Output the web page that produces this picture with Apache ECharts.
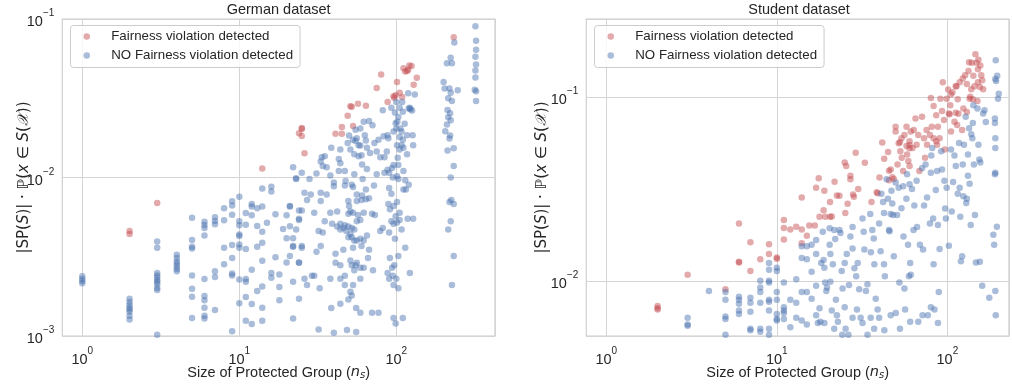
<!DOCTYPE html>
<html>
<head>
<meta charset="utf-8">
<script src="https://cdn.jsdelivr.net/npm/echarts@6/dist/echarts.min.js"></script>
<style>
  html, body { margin: 0; padding: 0; background: #ffffff; }
  #chart { width: 1012px; height: 385px; }
</style>
</head>
<body>
<div id="chart"></div>
<script>
// Series labels
const NAME_VIOL = 'Fairness violation detected';
const NAME_OK = 'NO Fairness violation detected';
const panelTitles = ['German dataset', 'Student dataset'];

// German dataset: [group size n_s, |SP(S)| * P(x in S)]
const germanViolation = [
  [2,0.0046],[2,0.0044],[3,0.0069],[14,0.0114],[26,0.0142],[24,0.019],[25,0.0205],[25,0.0202],[25,0.0183],
  [41,0.0189],[45,0.0189],[45,0.0208],[49,0.0245],[53,0.0211],[51,0.0282],[52,0.028],[57,0.0292],[64,0.0284],
  [75,0.0367],[80,0.0446],[88,0.0299],[96,0.0326],[97,0.0318],[99,0.033],[101,0.04],[105,0.0342],[109,0.0322],
  [111,0.0489],[114,0.0466],[117,0.047],[119,0.0478],[121,0.0508],[125,0.0506],[135,0.0426],[129,0.0385],[232,0.0766]
];
const germanNoViolation = [
  [1,0.00238],[1,0.00229],[1,0.00222],[1,0.00215],
  [2,0.00172],[2,0.00164],[2,0.00157],[2,0.00151],[2,0.00147],[2,0.00142],[2,0.00134],[2,0.00127],
  [3,0.00394],[3,0.00361],[3,0.0025],[3,0.00241],[3,0.00233],[3,0.00225],[3,0.00219],[3,0.00212],[3,0.00201],[3,0.00195],[3,0.00102],
  [4,0.00325],[4,0.0031],[4,0.00295],[4,0.00286],[4,0.00275],[4,0.00265],[4,0.00256],
  [5,0.00557],[5,0.00403],[5,0.00366],[5,0.00357],[5,0.00241],[5,0.00199],[5,0.00177],[5,0.0013],
  [6,0.00526],[6,0.00501],[6,0.00481],[6,0.00431],[6,0.00229],[6,0.00179],[6,0.00168],[6,0.00151],[6,0.00134],[6,0.00129],
  [7,0.00562],[7,0.00531],[7,0.00507],[7,0.00256],[7,0.00236],[7,0.00146],
  [8,0.0064],[8,0.00537],[8,0.00361],[8,0.00284],
  [9,0.00708],[9,0.00665],[9,0.00582],[9,0.00375],[9,0.0031],[9,0.00248],[9,0.00241],[9,0.00107],
  [10,0.00757],[10,0.00529],[10,0.00499],[10,0.00437],[10,0.00427],[10,0.00378],[10,0.00361],[10,0.00227],[10,0.00161],
  [11,0.00596],[11,0.00504],[11,0.00354],[11,0.00229],[11,0.0022],[11,0.00176],[11,0.00125],
  [12,0.00681],[12,0.00656],[12,0.00577],[12,0.00262],[12,0.00159],[12,0.00119],
  [13,0.0064],[13,0.00494],[13,0.00366],[13,0.00192],
  [14,0.00852],[14,0.00656],[14,0.00454],[14,0.00388],[14,0.00298],[14,0.00205],[14,0.00151],[14,0.00125],
  [15,0.00519],[16,0.00874],[16,0.00817],[16,0.0025],[16,0.00233],[17,0.00586],[17,0.00314],
  [18,0.00244],[18,0.00204],[18,0.00168],[19,0.00474],[20,0.00577],[20,0.00413],[20,0.00291],
  [21,0.00656],[21,0.00493],[22,0.00413],[22,0.00366],[22,0.0116],[23,0.0098],[22,0.00129],
  [24,0.0055],[24,0.00291],[24,0.00172],[24,0.0062],
  // n_s 20-110, upper band
  [62,0.0225],[67,0.0227],[70.5,0.0214],[59,0.0204],[55,0.02],[50,0.0184],[53,0.0173],[56,0.0177],[59,0.0159],
  [64,0.0171],[65,0.0154],[68,0.0143],[72.5,0.0165],[77,0.0173],[82,0.0266],[88,0.0185],[89,0.0177],[84,0.0134],
  [79,0.0134],[96,0.012],[93,0.0275],[100,0.03],[105,0.0275],[103,0.0241],[101.5,0.0225],[106,0.0204],[105,0.018],
  [108,0.016],[49,0.0165],[51,0.015],[54,0.014],[57.5,0.0136],[60.5,0.0121],[65,0.0113],[44,0.015],[43,0.0131],
  [38.5,0.0154],[35,0.0136],[34,0.0118],[36,0.0116],[38,0.0103],[44,0.0123],[47,0.011],[31,0.0106],[23,0.0099],
  [54,0.0105],[61,0.0098],[75,0.0105],[84,0.0107],[90,0.0107],[101,0.0102],[72,0.0089],[93,0.0079],[64,0.0084],
  [60.5,0.0077],[56,0.0078],[52,0.009],[47,0.0089],[40,0.0088],[36,0.0078],[33,0.008],[28.5,0.0078],[26,0.008],
  [28,0.0098],[25,0.0107],[33,0.0126],[33.5,0.0134],[43,0.011],[40,0.0093],[47.5,0.0095],[53,0.0087],[55,0.017],
  [57.5,0.016],[60,0.0138],[63,0.0185],[75,0.0146],[83,0.0182],[87,0.0146],[88,0.0112],[90,0.0086],[94,0.0115],
  [95,0.01],[96,0.0195],[98,0.0257],[99,0.022],[100,0.0204],[101,0.016],[102,0.0133],[103,0.012],[103,0.0098],[105,0.015],
  // n_s 20-110, lower band
  [21,0.0066],[27,0.0072],[33,0.0071],[25,0.0062],[30,0.006],[38,0.006],[42,0.0061],[49.5,0.0071],[50,0.0066],
  [51,0.0061],[49.5,0.0059],[53,0.006],[56,0.0071],[60,0.0072],[64,0.0073],[67,0.0074],[62,0.006],[70,0.0059],
  [73,0.0058],[57,0.0058],[59,0.0054],[56,0.0053],[44,0.0051],[47,0.005],[49.5,0.0049],[52,0.0048],[54,0.0047],
  [35,0.0053],[39,0.0051],[42,0.0049],[32,0.0046],[34,0.0045],[23,0.0047],[24,0.0054],[44,0.0047],[46,0.0048],
  [48,0.0046],[51,0.0044],[49.5,0.0042],[52,0.0042],[54,0.004],[56,0.004],[59,0.0041],[62,0.004],[65,0.0043],
  [60,0.0037],[53,0.0036],[46,0.0035],[41,0.0033],[22,0.0037],[25,0.0037],[25,0.0036],[21,0.0032],[24,0.0029],
  [31,0.0034],[33,0.0037],[41,0.0029],[44,0.0028],[51,0.003],[52,0.0028],[55,0.0028],[56,0.0029],[59,0.0027],
  [62,0.0027],[66,0.0031],[71,0.0026],[67,0.0035],[54,0.0026],[59,0.0023],[47,0.0024],[44,0.0023],[38,0.0023],
  [29,0.0024],[30,0.0024],[26,0.0023],[27,0.0021],[22,0.0022],[32.5,0.002],[47,0.0021],[53,0.0021],[51,0.0019],
  [52,0.0018],[49.5,0.0017],[44,0.0016],[38.5,0.0015],[55.5,0.0015],[59,0.0014],[70,0.0014],[77,0.0014],
  [32,0.0011],[40,0.00105],[48.5,0.00109],[55.5,0.00106],[91,0.0031],[94,0.0027],[88,0.0025],[90,0.0023],
  [95,0.0024],[97,0.0028],[96,0.0021],[100,0.0023],[79,0.0046],[82,0.0048],[90,0.0045],[96,0.0051],[101,0.0052],
  [105,0.0054],[98,0.0041],[103,0.0032],[89,0.0068],[91,0.0063],[96,0.0066],[101,0.007],[99,0.0057],[93,0.0053],
  [105,0.006],[108,0.0047],[96,0.0013],[99,0.0012],[103,0.002],[110,0.0013],[114,0.0036],[122,0.0025],[128,0.0055],
  [118,0.0055],[111,0.0084],[120,0.009],
  // n_s 108-131
  [109,0.03],[108,0.0195],[110,0.0173],[110,0.026],[111,0.0154],[111,0.011],[113,0.0218],[114,0.0096],[115,0.0084],
  [117,0.0185],[117,0.014],[119,0.034],[120,0.0272],[122,0.0275],[123,0.027],[126,0.0265],[127,0.0185],[128,0.016],[131,0.0334],
  // n_s 200-320
  [234,0.071],[222,0.057],[226,0.0525],[210,0.0525],[200,0.04],[203,0.0364],[218,0.0364],[246,0.0355],[222,0.0343],
  [214,0.0316],[226,0.0304],[212,0.0267],[220,0.0254],[214,0.024],[222,0.023],[210,0.0216],[205,0.0196],[220,0.0184],
  [218,0.0176],[232,0.0153],[212,0.0148],[232,0.0118],[222,0.01],[218,0.007],[224,0.0072],[232,0.0068],[222,0.0053],
  [214,0.0047],[232,0.0032],[226,0.0021],
  [319,0.09],[322,0.073],[322,0.064],[319,0.0578],[322,0.0517],[319,0.0473],[319,0.0428],[316,0.0358],[322,0.035],[322,0.0304]
];

// Student dataset
const studentViolation = [
  [2,0.0073],[2,0.0071],[2,0.007],[3,0.0108],[5,0.009],[6,0.0205],[6,0.0127],[6,0.0126],[7,0.0162],[7,0.0113],
  [8,0.0131],[9,0.0158],[9,0.014],[10,0.0134],[10,0.0132],[11,0.0214],[11,0.0194],[11,0.0168],[12,0.019],[13,0.0197],
  [14,0.0284],[14,0.019],[14,0.016],[15,0.0176],[15.5,0.02],[17,0.0321],[16.7,0.02],[17.6,0.0361],[17.8,0.0223],
  [19,0.0309],[18.8,0.0242],[19.2,0.0223],[20.5,0.0223],[21,0.0224],[20.5,0.0268],[21.8,0.0346],[22.5,0.0291],
  [23.3,0.029],[25,0.0439],[25.5,0.0421],[25.2,0.0234],[26,0.0262],[27,0.0373],[27,0.0357],[28,0.0295],[28.3,0.0286],
  [29,0.0496],[30,0.0316],[32.8,0.0438],[35.9,0.0268],[38.5,0.0303],[39,0.0299],[40,0.0364],[41.5,0.0565],[42.6,0.0461],
  [44.9,0.0502],[45.5,0.0396],[45.5,0.0352],[46.5,0.0403],[47.5,0.0365],[48.5,0.0358],[49.7,0.0647],[49.7,0.0688],
  [51,0.0429],[51.8,0.056],[52.7,0.0567],[53.8,0.0596],[53,0.0506],[54,0.0466],[55,0.0395],[56,0.0621],[57.6,0.0688],
  [57.6,0.054],[58,0.0486],[59,0.0448],[60,0.0421],[60,0.0573],[60,0.0547],[60,0.0525],[61,0.0647],[62.5,0.0527],
  [63.5,0.066],[65,0.0763],[66,0.0549],[67.5,0.0621],[68.5,0.0395],[71,0.0779],[73,0.0596],[74,0.0466],[75.5,0.066],
  [76,0.0549],[79,0.0621],[80,0.0984],[81,0.0688],[83,0.0892],[83,0.0596],[86,0.0795],[86,0.0573],[87,0.0549],
  [88,0.0688],[90,0.0596],[91,0.0976],[93,0.0838],[94,0.1199],[95.5,0.0747],[96.5,0.0517],[99,0.0976],[101,0.1094],
  [102,0.0811],[103,0.0805],[104,0.0899],[105,0.0647],[105,0.103],[107,0.106],[110,0.0732],[112,0.082],[112,0.114],
  [113,0.114],[114,0.0703],[115,0.0969],[116,0.081],[118,0.12],[122,0.066],[123,0.1258],[124,0.0863],[127,0.1309],
  [130,0.1174],[130,0.0828],[133,0.138],[134,0.154],[135,0.0976],[136,0.1],[138,0.11],[139,0.153],[141,0.0969],
  [142,0.13],[144,0.114],[146,0.17],[148,0.153],[150,0.095],[151,0.141],[151,0.12],[152,0.159],[155,0.113],
  [156,0.148],[158,0.131],[160,0.123],[162,0.11]
];
const studentNoViolation = [
  [4,0.0088],[3,0.0063],[3,0.0058],[3,0.0057],[4,0.005],[5,0.0087],[5,0.0079],[5,0.0064],[5,0.0062],[5,0.0051],
  [6,0.0082],[6,0.0079],[6,0.0075],[6,0.0069],[6,0.0066],[7,0.0081],[7,0.0076],[7,0.0068],[7,0.0055],[7,0.0054],
  [8,0.01],[8,0.0092],[8,0.0087],[8,0.0076],[8,0.0055],[8,0.0053],
  [9,0.0125],[9,0.0115],[9,0.01],[9,0.0098],[9,0.0079],[9,0.0077],[9,0.0069],[9,0.0055],[9,0.0051],
  [10,0.0118],[10,0.0113],[10,0.0087],[10,0.0079],[10,0.0066],[10,0.0062],[10,0.0061],
  [11,0.0098],[11,0.0072],[11,0.0069],[11,0.0067],[11,0.0062],[12,0.0079],[12,0.0056],[13,0.0102],[13,0.0076],[13,0.0063],
  [14,0.0154],[14,0.0133],[14,0.0087],[14,0.0061],[15,0.0154],[15,0.0131],[15,0.0087],[15,0.0058],
  [16,0.0157],[16,0.0112],[16,0.008],[17,0.0167],[17,0.014],[17,0.0094],[17.4,0.0059],[17.8,0.0071],[18.2,0.0125],
  [18.6,0.0185],[18.8,0.013],[19,0.0118],[19.2,0.0098],[19.5,0.0088],[19.7,0.0092],[20.4,0.0193],[20.4,0.0157],
  [20.6,0.014],[20.6,0.0099],[21.3,0.0123],[21.7,0.0189],[22,0.0169],[22.2,0.0079],[22.5,0.0065],[23.3,0.0189],
  [23.6,0.0182],[24,0.0113],[24.3,0.0091],[25,0.0125],[25,0.0072],[25.7,0.014],[26.5,0.0095],[27,0.0174],[27.8,0.0196],
  [27.8,0.015],[28.5,0.0117],[29.2,0.0106],[29.8,0.0125],[30.4,0.009],[31,0.0063],[31.8,0.0218],[32.3,0.0185],
  [32.6,0.0148],[33.3,0.0088],[34,0.0096],[35.3,0.0231],[35.6,0.0143],[36.3,0.0189],[37,0.017],[37.3,0.0123],
  [38,0.008],[39,0.007],[39.8,0.0205],[40.6,0.0145],[41,0.0297],[42,0.0268],[42.5,0.0234],[42.5,0.0123],[43,0.0106],
  [44,0.0357],[44.8,0.0279],[45.5,0.0189],[45.8,0.0186],[46.5,0.0231],[47,0.0309],[47.5,0.0263],[48,0.0228],[48.5,0.0136],
  [49.7,0.0342],[50.7,0.0228],[51.8,0.0321],[52.3,0.0098],[53.8,0.0248],[55,0.0327],[55.3,0.0174],[56,0.0091],
  [57.5,0.0279],[58,0.038],[58.8,0.0157],[59.5,0.0106],[60,0.0335],[60.5,0.0125],[61,0.0108],[62,0.0316],[63.3,0.0189],
  [64,0.0257],[66,0.035],[66.4,0.0196],[69,0.0157],[71,0.0409],[72,0.0148],[73,0.0257],[74.5,0.0429],[76,0.0284],
  [76.8,0.0065],[79,0.0205],[80,0.0387],[80.5,0.048],[81.5,0.0527],[82.5,0.0218],[83,0.0123],[84,0.007],[85.5,0.0312],
  [87,0.0395],[88,0.0201],[89,0.0087],[90,0.0149],[92,0.0506],[93,0.0403],[96,0.035],[97,0.0247],[98,0.0218],
  [99,0.0321],[102,0.0155],[105,0.0517],[106,0.0238],[108,0.0344],[110,0.048],[112,0.0421],[115,0.0297],[117,0.0561],
  [118,0.0321],[119,0.0223],[120,0.0128],[122,0.0136],[123,0.0429],[124,0.0288],[125,0.0549],[128,0.0779],[129,0.0265],
  [130,0.0279],[132,0.0486],[132,0.0373],[134,0.0674],[135,0.0337],[137,0.0201],[138,0.0626],[140,0.0596],[141,0.072],
  [142,0.09],[143,0.0429],[145,0.0228],[147,0.0126],[150,0.0863],[152,0.0549],[154,0.0457],[155,0.0127],[156,0.0439],
  [160,0.0094],[162,0.0811],[165,0.0845],[168,0.073],[176,0.0081],[186,0.0178],[188,0.0157],[190,0.0763],[190,0.0721],
  [191,0.0596],[191,0.0527],[191,0.0387],[192,0.158],[191,0.125],[193,0.122],[196,0.13],[198,0.0976],[200,0.104],
  [191,0.0088],[192,0.0065],[195,0.0197],[190,0.038],
  [17,0.0065],[18,0.006],[19,0.0059],[21,0.0069],[21.7,0.0055],[22.8,0.006],[24.2,0.0051],[25.3,0.0055],[26.3,0.0051],
  [27.8,0.0063],[29.5,0.007],[31.8,0.0059],[34,0.0051],[35.5,0.0063],[37.2,0.0055],[39.8,0.0063],[42.7,0.0054],
  [46.5,0.0065],[49.8,0.0067],[52.7,0.0055],[56.5,0.007],[60.5,0.006],[67.5,0.006],[71.5,0.0065],[80,0.0072],[88,0.0059]
];

// Tick label in the form 10^k (labels only at whole decades)
function decadeLabel(v) {
  const e = Math.log10(v);
  const r = Math.round(e);
  if (Math.abs(e - r) > 1e-6) return '';
  const exp = r < 0 ? '\u2212' + (-r) : String(r);
  return '{b|10}{s|' + exp + '}';
}

const TEXT = '#262626';
const GRIDC = '#d4d4d4';
const FONT = '"Liberation Sans", Arial, sans-serif';
const MATH = '"DejaVu Sans", sans-serif';
const BLUE = 'rgba(76,114,176,0.6)';
const RED = 'rgba(196,78,82,0.6)';

const tickRich = {
  b: { fontSize: 14.5, fontFamily: FONT, color: TEXT, verticalAlign: 'bottom', lineHeight: 21 },
  s: { fontSize: 10, fontFamily: FONT, color: TEXT, verticalAlign: 'top', lineHeight: 21, padding: [0, 0, 8, 0] }
};

const panels = [
  { left: 62.3, width: 432.7, xMin: 0.746, xMax: 425, yMin: 0.001, yMax: 0.1, yGap: 31, legendLeft: 70.5 },
  { left: 586.3, width: 425.4, xMin: 0.764, xMax: 229.7, yMin: 0.005018, yMax: 0.2646, yGap: 37, legendLeft: 594.5 }
];

function xAxisFor(p, i) {
  return {
    type: 'log', logBase: 10, gridIndex: i, min: p.xMin, max: p.xMax,
    axisLine: { show: false }, axisTick: { show: false },
    splitLine: { show: true, lineStyle: { color: GRIDC, width: 1 } },
    axisLabel: { interval: 0, margin: 10, formatter: decadeLabel, rich: tickRich, color: TEXT },
    name: 'Size of Protected Group ({i|n}{sub|s})',
    nameLocation: 'middle', nameGap: 29, nameMoveOverlap: false,
    nameTextStyle: {
      fontSize: 14.5, fontFamily: FONT, color: TEXT,
      rich: {
        i: { fontSize: 14.5, fontFamily: MATH, fontStyle: 'italic', color: TEXT },
        sub: { fontSize: 10, fontFamily: MATH, fontStyle: 'italic', color: TEXT, padding: [5, 0, 0, 0] }
      }
    }
  };
}

function yAxisFor(p, i) {
  return {
    type: 'log', logBase: 10, gridIndex: i, min: p.yMin, max: p.yMax,
    axisLine: { show: false }, axisTick: { show: false },
    splitLine: { show: true, lineStyle: { color: GRIDC, width: 1 } },
    axisLabel: { interval: 0, margin: 8, formatter: decadeLabel, rich: tickRich, color: TEXT },
    name: '|SP({i|S})| \u00b7 \u2119({i|x} \u2208 {i|S}({c|\ud835\udcb3}))',
    nameLocation: 'middle', nameRotate: 90, nameGap: p.yGap, nameMoveOverlap: false,
    nameTextStyle: {
      fontSize: 15, fontFamily: MATH, color: TEXT,
      rich: {
        i: { fontSize: 15, fontFamily: MATH, fontStyle: 'italic', color: TEXT },
        c: { fontSize: 15, fontFamily: '"DejaVu Sans", "Noto Sans", serif', fontStyle: 'italic', color: TEXT }
      }
    }
  };
}

function legendFor(p) {
  return {
    orient: 'vertical', left: p.legendLeft, top: 25.5,
    data: [NAME_VIOL, NAME_OK],
    icon: 'circle', itemWidth: 39, itemHeight: 6.5, itemGap: 3,
    padding: [3, 7, 4, 13],
    backgroundColor: 'rgba(255,255,255,0.8)', borderColor: '#cccccc', borderWidth: 1, borderRadius: 3,
    textStyle: { fontSize: 13.3, fontFamily: FONT, color: TEXT, lineHeight: 16 },
    selectedMode: false
  };
}

function scatter(name, data, color, i) {
  return {
    type: 'scatter', name: name, data: data, xAxisIndex: i, yAxisIndex: i,
    symbol: 'circle', symbolSize: 6.5, clip: true,
    itemStyle: { color: color },
    emphasis: { disabled: true }
  };
}

const option = {
  animation: false,
  backgroundColor: '#ffffff',
  textStyle: { fontFamily: FONT },
  title: panelTitles.map((t, i) => ({
    text: t, left: panels[i].left + panels[i].width / 2, top: 2, textAlign: 'center', padding: 0,
    textStyle: { fontSize: 14.5, fontWeight: 'normal', fontFamily: FONT, color: TEXT }
  })),
  grid: panels.map(p => ({
    left: p.left, top: 19, width: p.width, height: 322,
    show: true, borderColor: '#cccccc', borderWidth: 1.2, backgroundColor: '#ffffff', containLabel: false
  })),
  xAxis: panels.map(xAxisFor),
  yAxis: panels.map(yAxisFor),
  legend: panels.map(legendFor),
  series: [
    scatter(NAME_VIOL, germanViolation, RED, 0),
    scatter(NAME_OK, germanNoViolation, BLUE, 0),
    scatter(NAME_VIOL, studentViolation, RED, 1),
    scatter(NAME_OK, studentNoViolation, BLUE, 1)
  ]
};

const chart = echarts.init(document.getElementById('chart'), null, { renderer: 'canvas' });
chart.setOption(option);
</script>
</body>
</html>
